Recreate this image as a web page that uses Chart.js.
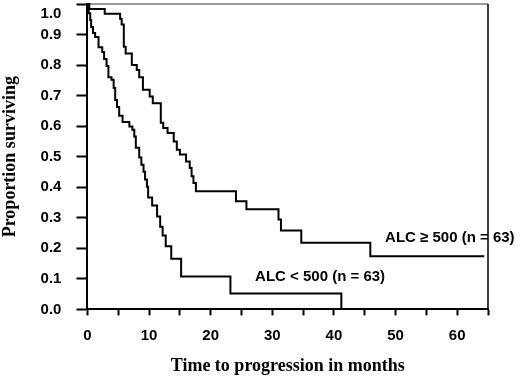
<!DOCTYPE html>
<html>
<head>
<meta charset="utf-8">
<script src="https://cdn.jsdelivr.net/npm/chart.js@4"></script>
<style>
  html, body { margin: 0; padding: 0; background: #fff; }
</style>
</head>
<body>
<canvas id="kmChart" width="520" height="377"></canvas>
<script>
// Kaplan-Meier steps (months, proportion surviving)
const highMonths = [0, 0.3, 2.8, 5.3, 5.55, 5.9, 6.2, 7.2, 8.0, 8.4, 9.0, 10.1, 10.6, 11.9, 12.3, 13.0, 14.0, 14.5, 15.0, 16.0, 16.6, 16.9, 17.2, 17.6, 24.1, 25.8, 31.0, 31.4, 34.7, 45.9, 64.4];
const highSurv = [1, 0.984, 0.968, 0.952, 0.933, 0.86, 0.838, 0.8, 0.784, 0.76, 0.719, 0.697, 0.675, 0.611, 0.594, 0.578, 0.55, 0.523, 0.507, 0.484, 0.463, 0.436, 0.414, 0.387, 0.354, 0.328, 0.294, 0.258, 0.218, 0.174, 0.174];

const lowMonths = [0, 0.2, 0.45, 0.6, 0.9, 1.25, 1.8, 2.4, 2.7, 3.1, 3.4, 3.9, 4.25, 4.5, 4.8, 5.15, 5.7, 6.8, 7.3, 7.6, 7.85, 8.4, 8.75, 9.1, 9.35, 9.65, 9.85, 10.5, 11.3, 11.8, 12.2, 12.7, 13.6, 15.2, 23.2, 41.2];
const lowSurv = [1, 0.97, 0.948, 0.925, 0.905, 0.892, 0.858, 0.843, 0.82, 0.797, 0.76, 0.752, 0.725, 0.686, 0.663, 0.634, 0.614, 0.599, 0.588, 0.566, 0.529, 0.497, 0.474, 0.451, 0.425, 0.402, 0.366, 0.34, 0.304, 0.271, 0.242, 0.207, 0.166, 0.108, 0.052, 0];

const groupNames = ["ALC \u2265 500 (n = 63)", "ALC < 500 (n = 63)"];
const xTickLabels = [0, 10, 20, 30, 40, 50, 60];
const yTickLabels = ["0.0", "0.1", "0.2", "0.3", "0.4", "0.5", "0.6", "0.7", "0.8", "0.9", "1.0"];

const sansBold = "bold 15px 'Liberation Sans', Arial, sans-serif";

// top/right frame lines, curve labels, and the "1.0" label sitting a bit low
const framePlugin = {
  id: "frame",
  beforeDatasetsDraw(chart) {
    const { ctx, chartArea: a } = chart;
    ctx.save();
    ctx.lineWidth = 2;
    ctx.strokeStyle = "#9a9a9a";
    ctx.beginPath();
    ctx.moveTo(a.left, a.top);
    ctx.lineTo(a.right, a.top);
    ctx.stroke();
    ctx.lineWidth = 1.5;
    ctx.strokeStyle = "#000";
    ctx.beginPath();
    ctx.moveTo(a.right, a.top);
    ctx.lineTo(a.right, a.bottom);
    ctx.stroke();
    ctx.restore();
  },
  afterDraw(chart) {
    const { ctx, chartArea: a, scales } = chart;
    const x = scales.x, y = scales.y;
    ctx.save();
    ctx.fillStyle = "#000";
    ctx.font = sansBold;
    ctx.textBaseline = "middle";
    ctx.textAlign = "left";
    ctx.fillText(groupNames[0], x.getPixelForValue(48.3), y.getPixelForValue(0.235));
    ctx.fillText(groupNames[1], x.getPixelForValue(27.2), y.getPixelForValue(0.106));
    ctx.textAlign = "right";
    ctx.fillText(yTickLabels[yTickLabels.length - 1], a.left - 26, a.top + 10);
    ctx.restore();
  },
};

new Chart(document.getElementById("kmChart"), {
  type: "line",
  data: {
    datasets: [
      {
        label: groupNames[0],
        data: highMonths.map((m, i) => ({ x: m, y: highSurv[i] })),
        stepped: "before",
        borderColor: "#000",
        borderWidth: 2,
        pointRadius: 0,
        fill: false,
        clip: 4,
      },
      {
        label: groupNames[1],
        data: lowMonths.map((m, i) => ({ x: m, y: lowSurv[i] })),
        stepped: "before",
        borderColor: "#000",
        borderWidth: 2,
        pointRadius: 0,
        fill: false,
        clip: 4,
      },
    ],
  },
  options: {
    responsive: false,
    animation: false,
    layout: { padding: { left: 0, right: 32, top: 4, bottom: 0 } },
    plugins: { legend: { display: false }, tooltip: { enabled: false } },
    scales: {
      x: {
        type: "linear",
        min: 0,
        max: 65,
        border: { display: true, color: "#000", width: 2 },
        grid: { drawOnChartArea: false, tickLength: 6, tickColor: "#000", tickWidth: 2 },
        ticks: {
          stepSize: 5,
          autoSkip: false,
          maxRotation: 0,
          padding: 11,
          color: "#000",
          font: { family: "'Liberation Sans', Arial, sans-serif", size: 15, weight: "bold" },
          callback: (v) => (xTickLabels.includes(v) ? String(v) : ""),
        },
        title: {
          display: true,
          text: "Time to progression in months",
          color: "#000",
          padding: { top: 0, bottom: 0 },
          font: { family: "'Liberation Serif', 'Times New Roman', serif", size: 18, weight: "bold" },
        },
      },
      y: {
        min: 0,
        max: 1,
        border: { display: true, color: "#000", width: 2 },
        grid: { drawOnChartArea: false, tickLength: 11, tickColor: "#000", tickWidth: 2 },
        ticks: {
          stepSize: 0.1,
          padding: 15,
          color: "#000",
          font: { family: "'Liberation Sans', Arial, sans-serif", size: 15, weight: "bold" },
          callback: (v, i) => (i === yTickLabels.length - 1 ? "" : yTickLabels[i]),
        },
        title: {
          display: true,
          text: "Proportion surviving",
          color: "#000",
          padding: { top: 0, bottom: 4 },
          font: { family: "'Liberation Serif', 'Times New Roman', serif", size: 18, weight: "bold" },
        },
        afterFit: (scale) => {
          scale.paddingTop = 0;
        },
      },
    },
  },
  plugins: [framePlugin],
});
</script>
</body>
</html>
